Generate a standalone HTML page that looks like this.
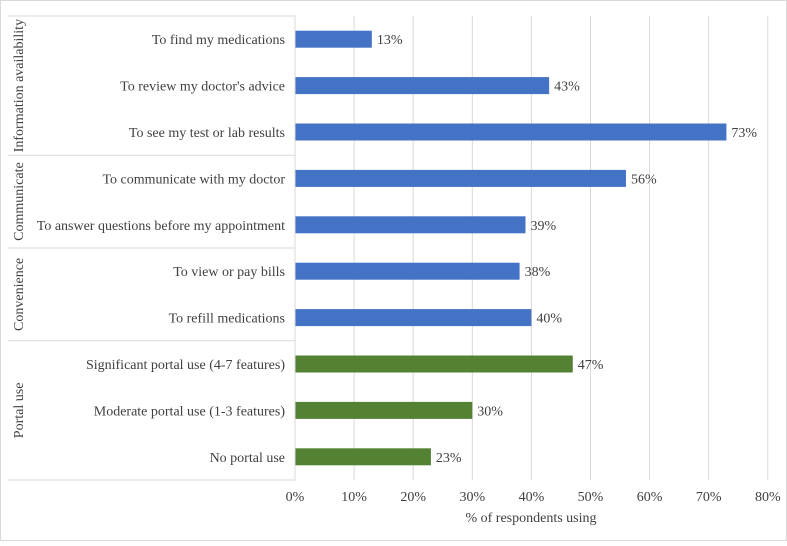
<!DOCTYPE html>
<html><head><meta charset="utf-8"><style>
body{margin:0;background:#fff}
svg text{font-family:"Liberation Serif",serif;fill:#404040}
</style></head><body>
<svg width="787" height="541">
<rect x="0.5" y="0.5" width="786" height="540" fill="#fff" stroke="#d9d9d9"/>
<g id="grid"></g><g id="bars"></g><g id="cats"></g>
<text x="531" y="522" font-size="14" text-anchor="middle">% of respondents using</text>
</svg>
<script>
const categories=["To find my medications","To review my doctor's advice","To see my test or lab results","To communicate with my doctor","To answer questions before my appointment","To view or pay bills","To refill medications","Significant portal use (4-7 features)","Moderate portal use (1-3 features)","No portal use"];
const values=[13,43,73,56,39,38,40,47,30,23];
const seriesGroup=[0,0,0,1,1,2,2,3,3,3];
const groups=["Information availability","Communicate","Convenience","Portal use"];
const ticks=[0,10,20,30,40,50,60,70,80];
const NS="http://www.w3.org/2000/svg";
const x0=295,pxPer=5.91,yTop=16,yBottom=480,rowH=(yBottom-yTop)/categories.length;
const X=v=>x0+v*pxPer, Y=i=>yTop+rowH*(i+0.5);
function mk(t,a,p){const e=document.createElementNS(NS,t);for(const k in a)e.setAttribute(k,a[k]);p.appendChild(e);return e;}
const grid=document.getElementById('grid'),bars=document.getElementById('bars'),cats=document.getElementById('cats');
ticks.forEach(t=>{
 if(t>0){const l=mk('line',{x1:X(t),x2:X(t),y1:yTop,y2:yBottom,stroke:'#d9d9d9'},grid);
 
 }
 const tx=mk('text',{x:X(t),y:501,'font-size':14,'text-anchor':'middle'},grid);tx.textContent=t+'%';
 
 
});
const ax=mk('path',{d:`M8,${yTop}H${x0}V${yBottom}H8`,fill:'none',stroke:'#d9d9d9'},cats);


categories.forEach((c,i)=>{
 const g=seriesGroup[i];
 const r=mk('rect',{x:x0,y:Y(i)-8.5,width:X(values[i])-x0,height:17,fill:g===3?'#548235':'#4472c4'},bars);
 
 
 const v=mk('text',{x:X(values[i])+5,y:Y(i)+5,'font-size':14},bars);v.textContent=values[i]+'%';
 
 
 const t=mk('text',{x:285,y:Y(i)+5,'font-size':14,'text-anchor':'end'},cats);t.textContent=c;
 
 
});
groups.forEach((gname,gi)=>{
 const idx=seriesGroup.map((g,i)=>g===gi?i:-1).filter(i=>i>=0);
 const a=yTop+rowH*idx[0],b=yTop+rowH*(idx[idx.length-1]+1);
 if(gi>0){const s=mk('line',{x1:8,x2:x0,y1:a,y2:a,stroke:'#d9d9d9'},cats);
 
 }
 const cy=(a+b)/2;
 const t=mk('text',{x:18,y:cy,'font-size':14,'text-anchor':'middle',transform:`rotate(-90 18 ${cy}) translate(0 5)`},cats);t.textContent=gname;
 
 
});
</script>
</body></html>
